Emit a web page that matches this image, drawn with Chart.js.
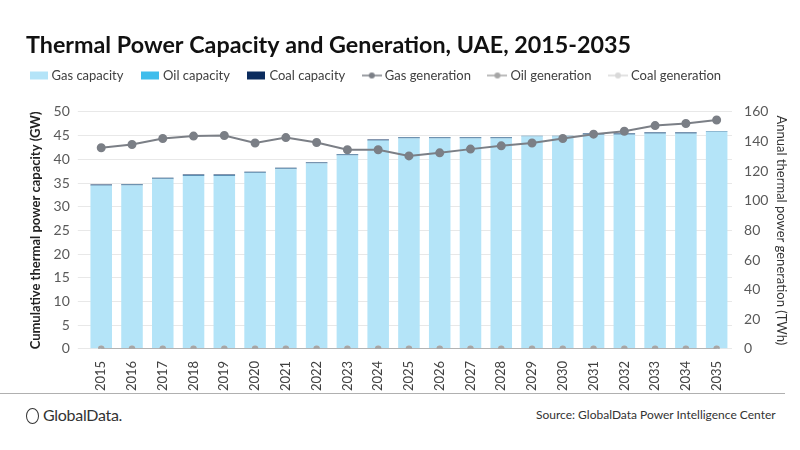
<!DOCTYPE html>
<html>
<head>
<meta charset="utf-8">
<script src="https://cdn.jsdelivr.net/npm/chart.js@4.4.0/dist/chart.umd.min.js"></script>
<style>
  body { margin: 0; background: #fff; font-family: Lato, sans-serif; }
  #wrap { position: relative; width: 800px; height: 450px; }
  #chartBox { position: absolute; left: 0; top: 0; width: 800px; height: 395px; }
  #rule { position: absolute; left: 0; top: 393px; width: 785px; border-top: 1px solid #b0b0b0; }
  #logo { position: absolute; left: 26px; top: 405px; font-size: 16px; color: #333; letter-spacing: -0.3px; }
  #logo span.ic { display: inline-block; width: 11px; height: 14px; border: 1.6px solid #333; border-radius: 50%; vertical-align: -3px; margin-right: 4px; }
  #source { position: absolute; left: 536px; top: 407px; font-size: 12px; color: #333; }
</style>
</head>
<body>
<div id="wrap">
  <div id="chartBox"><canvas id="lineChart"></canvas></div>
  <div id="rule"></div>
  <div id="logo"><span class="ic"></span>GlobalData.</div>
  <div id="source">Source: GlobalData Power Intelligence Center</div>
</div>
<script>
'use strict'

// categories
var years = ['2015','2016','2017','2018','2019','2020','2021','2022','2023','2024','2025',
             '2026','2027','2028','2029','2030','2031','2032','2033','2034','2035'];

// capacity (GW)
var gasCapacity  = [34.4, 34.5, 35.8, 36.5, 36.5, 37.1, 37.9, 39.1, 40.8, 43.9, 44.4,
                    44.4, 44.4, 44.4, 44.8, 44.8, 45.2, 45.2, 45.4, 45.4, 45.8];
var oilCapacity  = [0.2, 0.2, 0.2, 0.2, 0.2, 0.2, 0.2, 0.2, 0.2, 0.2, 0.2,
                    0.2, 0.2, 0.2, 0.2, 0.2, 0.2, 0.2, 0.2, 0.2, 0.2];
var coalCapacity = [0.1, 0.1, 0.1, 0.1, 0.1, 0.1, 0.1, 0.1, 0.1, 0.1, 0.1,
                    0.1, 0.1, 0.1, 0, 0, 0.1, 0.1, 0.1, 0.1, 0];

// generation (TWh)
var gasGeneration  = [135.8, 138.0, 142.1, 143.7, 144.1, 139.0, 142.7, 139.4, 134.5, 134.5, 130.3,
                      132.4, 134.9, 137.1, 139.0, 142.1, 145.0, 147.0, 150.8, 152.2, 154.6];
var oilGeneration  = [0, 0, 0, 0, 0, 0, 0, 0, 0, 0, 0, 0, 0, 0, 0, 0, 0, 0, 0, 0, 0];
var coalGeneration = [0, 0, 0, 0, 0, 0, 0, 0, 0, 0, 0, 0, 0, 0, 0, 0, 0, 0, 0, 0, 0];

// tick labels
var leftTicks  = [0, 5, 10, 15, 20, 25, 30, 35, 40, 45, 50];
var rightTicks = [0, 20, 40, 60, 80, 100, 120, 140, 160];

var gasBlue = '#b4e4f8';
var oilBlue = '#3fbdec';
var coalBlue = '#0b2c5e';
var gasGray = '#7b7f86';
var oilGray = '#a6a6a6';
var coalGray = '#d9d9d9';

// legend marks
function boxIcon(color) {
  var c = document.createElement('canvas');
  c.width = 18; c.height = 10;
  var g = c.getContext('2d');
  g.fillStyle = color;
  g.fillRect(0, 1, 18, 8);
  return c;
}
function lineIcon(color) {
  var c = document.createElement('canvas');
  c.width = 20; c.height = 10;
  var g = c.getContext('2d');
  g.strokeStyle = color; g.lineWidth = 1.5;
  g.beginPath(); g.moveTo(0, 5); g.lineTo(20, 5); g.stroke();
  g.fillStyle = color;
  g.beginPath(); g.arc(10, 5, 3, 0, Math.PI * 2); g.fill();
  return c;
}

// extra room under the legend, and nudge it left
var legendSpacing = {
  id: 'legendSpacing',
  beforeInit: function(c) {
    var origFit = c.legend.fit;
    c.legend.fit = function() {
      origFit.bind(c.legend)();
      this.height += 20;
    };
  },
  afterLayout: function(c) {
    c.legend.left -= 14;
  }
};

var chart = document.getElementById('lineChart');

let lineChart = new Chart(chart, {
  type: 'bar',
  plugins: [legendSpacing],
  data: {
    labels: years,
    datasets: [
      { label: 'Gas capacity', data: gasCapacity, backgroundColor: gasBlue, yAxisID: 'y', stack: 'cap', order: 2, legendIcon: boxIcon(gasBlue) },
      { label: 'Oil capacity', data: oilCapacity, backgroundColor: '#5a8fb3', yAxisID: 'y', stack: 'cap', order: 2, legendIcon: boxIcon(oilBlue) },
      { label: 'Coal capacity', data: coalCapacity, backgroundColor: coalBlue, yAxisID: 'y', stack: 'cap', order: 2, legendIcon: boxIcon(coalBlue) },
      { type: 'line', label: 'Gas generation', data: gasGeneration, yAxisID: 'y1', borderColor: gasGray, backgroundColor: gasGray,
        borderWidth: 2, pointRadius: 3.5, order: 1, legendIcon: lineIcon(gasGray) },
      { type: 'line', label: 'Oil generation', data: oilGeneration, yAxisID: 'y1', borderColor: oilGray, backgroundColor: oilGray,
        borderWidth: 1.5, pointRadius: 2.5, order: 1, legendIcon: lineIcon(oilGray) },
      { type: 'line', label: 'Coal generation', data: coalGeneration, yAxisID: 'y1', borderColor: coalGray, backgroundColor: coalGray,
        borderWidth: 1.5, pointRadius: 2.5, order: 1, legendIcon: lineIcon(coalGray) }
    ]
  },
  options: {
    responsive: true,
    maintainAspectRatio: false,
    animation: false,
    layout: { padding: { left: 26, right: 10, top: 31, bottom: 0 } },
    datasets: { bar: { barPercentage: 0.7, categoryPercentage: 1 } },
    plugins: {
      title: {
        display: true,
        text: 'Thermal Power Capacity and Generation, UAE, 2015-2035',
        align: 'start',
        color: '#111',
        font: { family: 'Lato', size: 23.3, weight: 'bold' },
        padding: { top: 0, bottom: -10 }
      },
      legend: {
        position: 'top',
        align: 'start',
        labels: {
          usePointStyle: true,
          color: '#404040',
          font: { family: 'Lato', size: 13 },
          padding: 20,
          generateLabels: function(c) {
            return c.data.datasets.map(function(ds, i) {
              return {
                text: ds.label,
                pointStyle: ds.legendIcon,
                fillStyle: ds.backgroundColor,
                strokeStyle: ds.backgroundColor,
                lineWidth: 0,
                datasetIndex: i,
                fontColor: '#404040'
              };
            });
          }
        }
      },
      tooltip: { enabled: false }
    },
    scales: {
      x: {
        stacked: true,
        grid: { display: false },
        border: { display: false },
        ticks: { color: '#404040', font: { family: 'Lato', size: 13 }, minRotation: 90, maxRotation: 90, padding: 4 }
      },
      y: {
        stacked: true,
        position: 'left',
        min: 0, max: 50,
        afterBuildTicks: function(axis) { axis.ticks = leftTicks.map(function(v) { return { value: v }; }); },
        grid: { color: '#e8e8e8' },
        border: { display: false },
        ticks: { color: '#595959', font: { family: 'Lato', size: 14 }, padding: 8 },
        title: { display: true, text: 'Cumulative thermal power capacity (GW)', color: '#222',
                 font: { family: 'Lato', size: 13, weight: 'bold' }, padding: 2 }
      },
      y1: {
        position: 'right',
        min: 0, max: 160,
        afterBuildTicks: function(axis) { axis.ticks = rightTicks.map(function(v) { return { value: v }; }); },
        grid: { display: false },
        border: { display: false },
        ticks: { color: '#595959', font: { family: 'Lato', size: 14 }, padding: 4 },
        title: { display: true, text: 'Annual thermal power generation (TWh)', color: '#333',
                 font: { family: 'Lato', size: 13 }, padding: 1 }
      }
    }
  }
});
</script>
</body>
</html>
